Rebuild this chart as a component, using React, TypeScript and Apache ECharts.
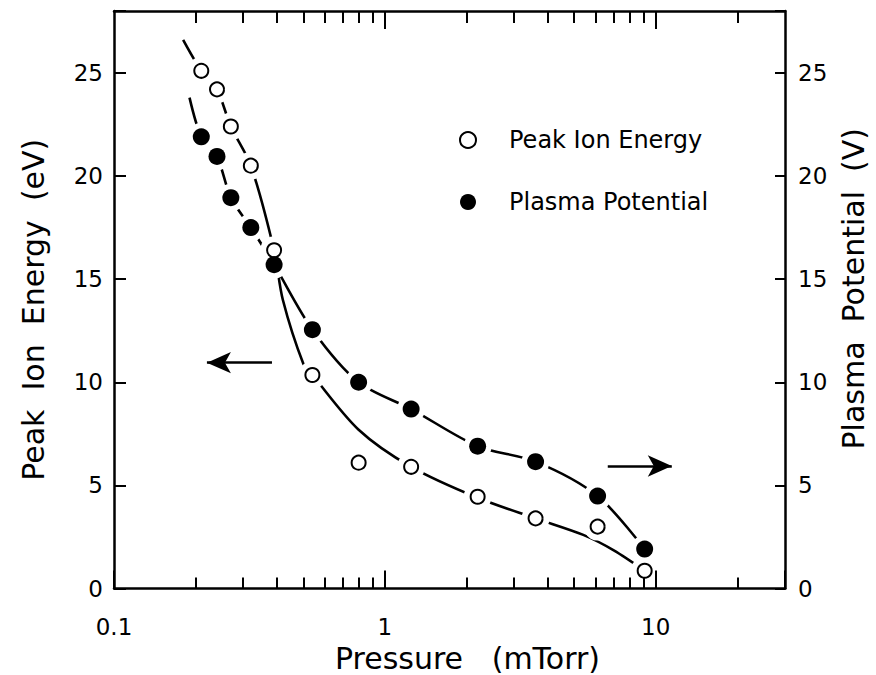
import React, { useEffect, useRef } from "react";
import * as echarts from "echarts";

// Measured data points (pressure in mTorr)
const pressure = [0.21, 0.24, 0.27, 0.32, 0.39, 0.54, 0.8, 1.25, 2.2, 3.6, 6.1, 9.1];
const peakIonEnergy = [25.1, 24.2, 22.4, 20.5, 16.4, 10.35, 6.1, 5.9, 4.45, 3.4, 3.0, 0.86];
const plasmaPotential = [21.9, 20.95, 18.95, 17.5, 15.7, 12.55, 10.0, 8.7, 6.9, 6.15, 4.48, 1.91];

// Hand-drawn trend curves (knots)
const peakCurveX = [0.18, 0.21, 0.24, 0.27, 0.32, 0.39, 0.42, 0.5, 0.54, 0.8, 1.25, 2.2, 3.6, 5.4, 7.0, 9.1];
const peakCurveY = [26.6, 25.1, 24.2, 22.4, 20.5, 16.4, 14.0, 10.9, 10.35, 7.7, 5.9, 4.4, 3.4, 2.6, 1.85, 0.86];
const plasmaCurveX = [0.19, 0.21, 0.24, 0.27, 0.32, 0.39, 0.54, 0.8, 1.25, 2.2, 3.6, 6.1, 9.1];
const plasmaCurveY = [23.8, 21.9, 20.95, 18.95, 17.5, 15.7, 12.55, 10.0, 8.7, 6.9, 6.15, 4.48, 1.91];

// Axis ticks / labels
const xLabelValues = [0.1, 1, 10];
const xMinorTicks = [0.2, 0.3, 0.4, 0.5, 0.6, 0.7, 0.8, 0.9, 2, 3, 4, 5, 6, 7, 8, 9, 20];
const xMajorTicks = [1, 10];
const yTickLabels = [0, 5, 10, 15, 20, 25];

// Arrow annotations (data coordinates)
const leftArrow = [[0.383, 10.95], [0.2203, 10.95]];
const rightArrow = [[6.65, 5.94], [11.46, 5.94]];

const FONT = "DejaVu Sans";

const zip = (xs: number[], ys: number[]) => xs.map((x, i) => [x, ys[i]]);

export default function App() {
  const ref = useRef<HTMLDivElement>(null);

  useEffect(() => {
    document.body.style.margin = "0";
    if (!ref.current) return;
    const chart = echarts.init(ref.current, null, { renderer: "svg" });

    const xFmt = (v: number) => {
      const m = xLabelValues.find((t) => Math.abs(v - t) / t < 1e-6);
      return m === undefined ? "" : String(m);
    };
    const yFmt = (v: number) => (yTickLabels.includes(v) ? String(v) : "");

    const baseX = {
      type: "log",
      min: 0.1,
      max: 30,
      gridIndex: 0,
      z: 10,
      splitLine: { show: false },
      minorTick: { show: false },
    };

    const option: any = {
      animation: false,
      backgroundColor: "#fff",
      textStyle: { fontFamily: FONT, color: "#000" },
      grid: { left: 114, right: 91, top: 11, bottom: 86.5, containLabel: false, outerBoundsMode: "none" },
      legend: {
        data: ["Peak Ion Energy", "Plasma Potential"],
        orient: "vertical",
        left: 454,
        top: 123,
        itemWidth: 16,
        itemHeight: 16,
        itemGap: 38,
        selectedMode: false,
        textStyle: { fontFamily: FONT, fontSize: 24, color: "#000", lineHeight: 24, padding: [0, 0, 0, 28] },
      },
      xAxis: [
        {
          ...baseX,
          position: "bottom",
          name: "Pressure   (mTorr)",
          nameLocation: "middle",
          nameGap: 35,
          nameTextStyle: { fontFamily: FONT, fontSize: 30, color: "#000", padding: [0, 0, 0, 36] },
          axisLine: { show: true, onZero: false, lineStyle: { color: "#000", width: 2.5 } },
          axisTick: { show: true, inside: true, length: 18, lineStyle: { color: "#000", width: 2 } },
          axisLabel: { show: true, margin: 27, fontFamily: FONT, fontSize: 23, color: "#000", formatter: xFmt },
        },
        {
          ...baseX,
          position: "bottom",
          axisLine: { show: false, onZero: false },
          axisTick: { show: true, inside: true, length: 11, customValues: xMinorTicks, lineStyle: { color: "#000", width: 2 } },
          axisLabel: { show: false },
        },
        {
          ...baseX,
          position: "top",
          axisLine: { show: true, onZero: false, lineStyle: { color: "#000", width: 2.5 } },
          axisTick: { show: true, inside: true, length: 18, customValues: xMajorTicks, lineStyle: { color: "#000", width: 2 } },
          axisLabel: { show: false },
        },
        {
          ...baseX,
          position: "top",
          axisLine: { show: false, onZero: false },
          axisTick: { show: true, inside: true, length: 12, customValues: xMinorTicks, lineStyle: { color: "#000", width: 2 } },
          axisLabel: { show: false },
        },
      ],
      yAxis: [
        {
          type: "value",
          position: "left",
          min: 0,
          max: 28,
          interval: 5,
          z: 10,
          name: "Peak  Ion  Energy  (eV)",
          nameLocation: "middle",
          nameRotate: 90,
          nameGap: 66,
          nameTextStyle: { fontFamily: FONT, fontSize: 30, color: "#000", padding: [0, 20, 0, 0] },
          splitLine: { show: false },
          axisLine: { show: true, onZero: false, lineStyle: { color: "#000", width: 2.5 } },
          axisTick: { show: true, inside: true, length: 12, lineStyle: { color: "#000", width: 2 } },
          axisLabel: { show: true, margin: 11, fontFamily: FONT, fontSize: 23, color: "#000", formatter: yFmt },
        },
        {
          type: "value",
          position: "right",
          min: 0,
          max: 28,
          interval: 5,
          z: 10,
          name: "Plasma  Potential  (V)",
          nameLocation: "middle",
          nameRotate: 90,
          nameGap: 52,
          nameTextStyle: { fontFamily: FONT, fontSize: 30, color: "#000", padding: [0, 0, 0, 22] },
          splitLine: { show: false },
          axisLine: { show: true, onZero: false, lineStyle: { color: "#000", width: 2.5 } },
          axisTick: { show: true, inside: true, length: 10, lineStyle: { color: "#000", width: 2 } },
          axisLabel: { show: true, margin: 13, fontFamily: FONT, fontSize: 23, color: "#000", formatter: yFmt },
        },
      ],
      series: [
        {
          name: "peakCurve",
          type: "line",
          xAxisIndex: 0,
          yAxisIndex: 0,
          data: zip(peakCurveX, peakCurveY),
          smooth: 0.3,
          showSymbol: false,
          symbol: "none",
          silent: true,
          z: 2,
          lineStyle: { color: "#000", width: 2.6 },
          markLine: {
            silent: true,
            symbol: ["none", "arrow"],
            symbolSize: [16, 24],
            label: { show: false },
            lineStyle: { color: "#000", width: 2.6, type: "solid", opacity: 1 },
            itemStyle: { color: "#000" },
            data: [
              [{ coord: leftArrow[0] }, { coord: leftArrow[1] }],
              [{ coord: rightArrow[0] }, { coord: rightArrow[1] }],
            ],
          },
        },
        {
          name: "plasmaCurve",
          type: "line",
          xAxisIndex: 0,
          yAxisIndex: 1,
          data: zip(plasmaCurveX, plasmaCurveY),
          smooth: 0.3,
          showSymbol: false,
          symbol: "none",
          silent: true,
          z: 2,
          lineStyle: { color: "#000", width: 2.6 },
        },
        {
          name: "peakHalo",
          type: "scatter",
          xAxisIndex: 0,
          yAxisIndex: 0,
          data: zip(pressure, peakIonEnergy),
          symbol: "circle",
          symbolSize: 28,
          silent: true,
          z: 3,
          itemStyle: { color: "#fff", opacity: 1 },
        },
        {
          name: "plasmaHalo",
          type: "scatter",
          xAxisIndex: 0,
          yAxisIndex: 1,
          data: zip(pressure, plasmaPotential),
          symbol: "circle",
          symbolSize: 28,
          silent: true,
          z: 3,
          itemStyle: { color: "#fff", opacity: 1 },
        },
        {
          name: "Peak Ion Energy",
          type: "scatter",
          xAxisIndex: 0,
          yAxisIndex: 0,
          data: zip(pressure, peakIonEnergy),
          symbol: "circle",
          symbolSize: 14,
          z: 4,
          itemStyle: { color: "#fff", borderColor: "#000", borderWidth: 2, opacity: 1 },
        },
        {
          name: "Plasma Potential",
          type: "scatter",
          xAxisIndex: 0,
          yAxisIndex: 1,
          data: zip(pressure, plasmaPotential),
          symbol: "circle",
          symbolSize: 17,
          z: 5,
          itemStyle: { color: "#000", opacity: 1 },
        },
      ],
    };

    chart.setOption(option);
    return () => chart.dispose();
  }, []);

  return <div ref={ref} style={{ width: 876, height: 675, background: "#fff" }} />;
}
